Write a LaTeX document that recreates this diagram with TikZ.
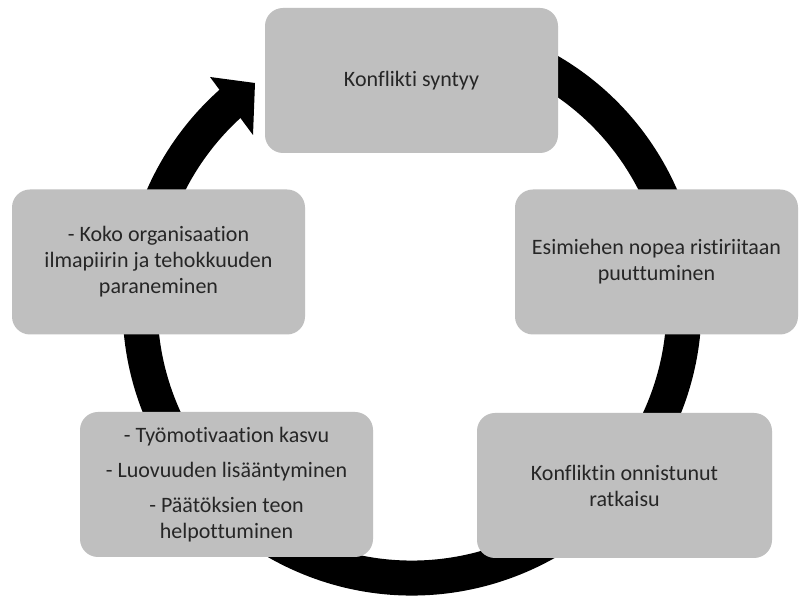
\documentclass[tikz,border=0pt]{standalone}
\usepackage{fontspec}
\setmainfont[Ligatures=NoCommon]{Carlito}
\usetikzlibrary{calc}
\definecolor{boxgray}{RGB}{191,191,191}
\definecolor{txtgray}{RGB}{38,38,38}
\begin{document}
\begin{tikzpicture}[x=1pt,y=1pt,
  stagebox/.style={fill=boxgray, draw=none, rounded corners=18pt,
    minimum width=293pt, minimum height=145pt, inner sep=0pt,
    align=center, text=txtgray, font=\fontsize{22}{26}\selectfont}]
\useasboundingbox (0,0) rectangle (799,601);
\fill[white] (0,0) rectangle (799,601);

% the cycle: a thick ring running clockwise, with its head at the upper left
\coordinate (c) at (412,295);
\draw[line width=35pt, black] ($(c)+(65:272)$) arc[start angle=65, end angle=-230, radius=272];
\fill[black] (210,524) -- (255,518) -- (253,466) -- cycle;

% stages of the cycle
\node[stagebox] (start) at (411.5,520.5) {Konflikti syntyy};
\node[stagebox, minimum width=283pt] (boss) at (656.5,339) {Esimiehen nopea ristiriitaan\\ puuttuminen};
\node[stagebox, minimum width=295pt] (solved) at (624.5,115.5) {Konfliktin onnistunut\\ ratkaisu};
\node[stagebox] (gains) at (226.5,116.5) {- Työmotivaation kasvu\\[9pt] - Luovuuden lisääntyminen\\[9pt] - Päätöksien teon\\ helpottuminen};
\node[stagebox] (org) at (158.5,339) {- Koko organisaation\\ ilmapiirin ja tehokkuuden\\ paraneminen};
\end{tikzpicture}
\end{document}
